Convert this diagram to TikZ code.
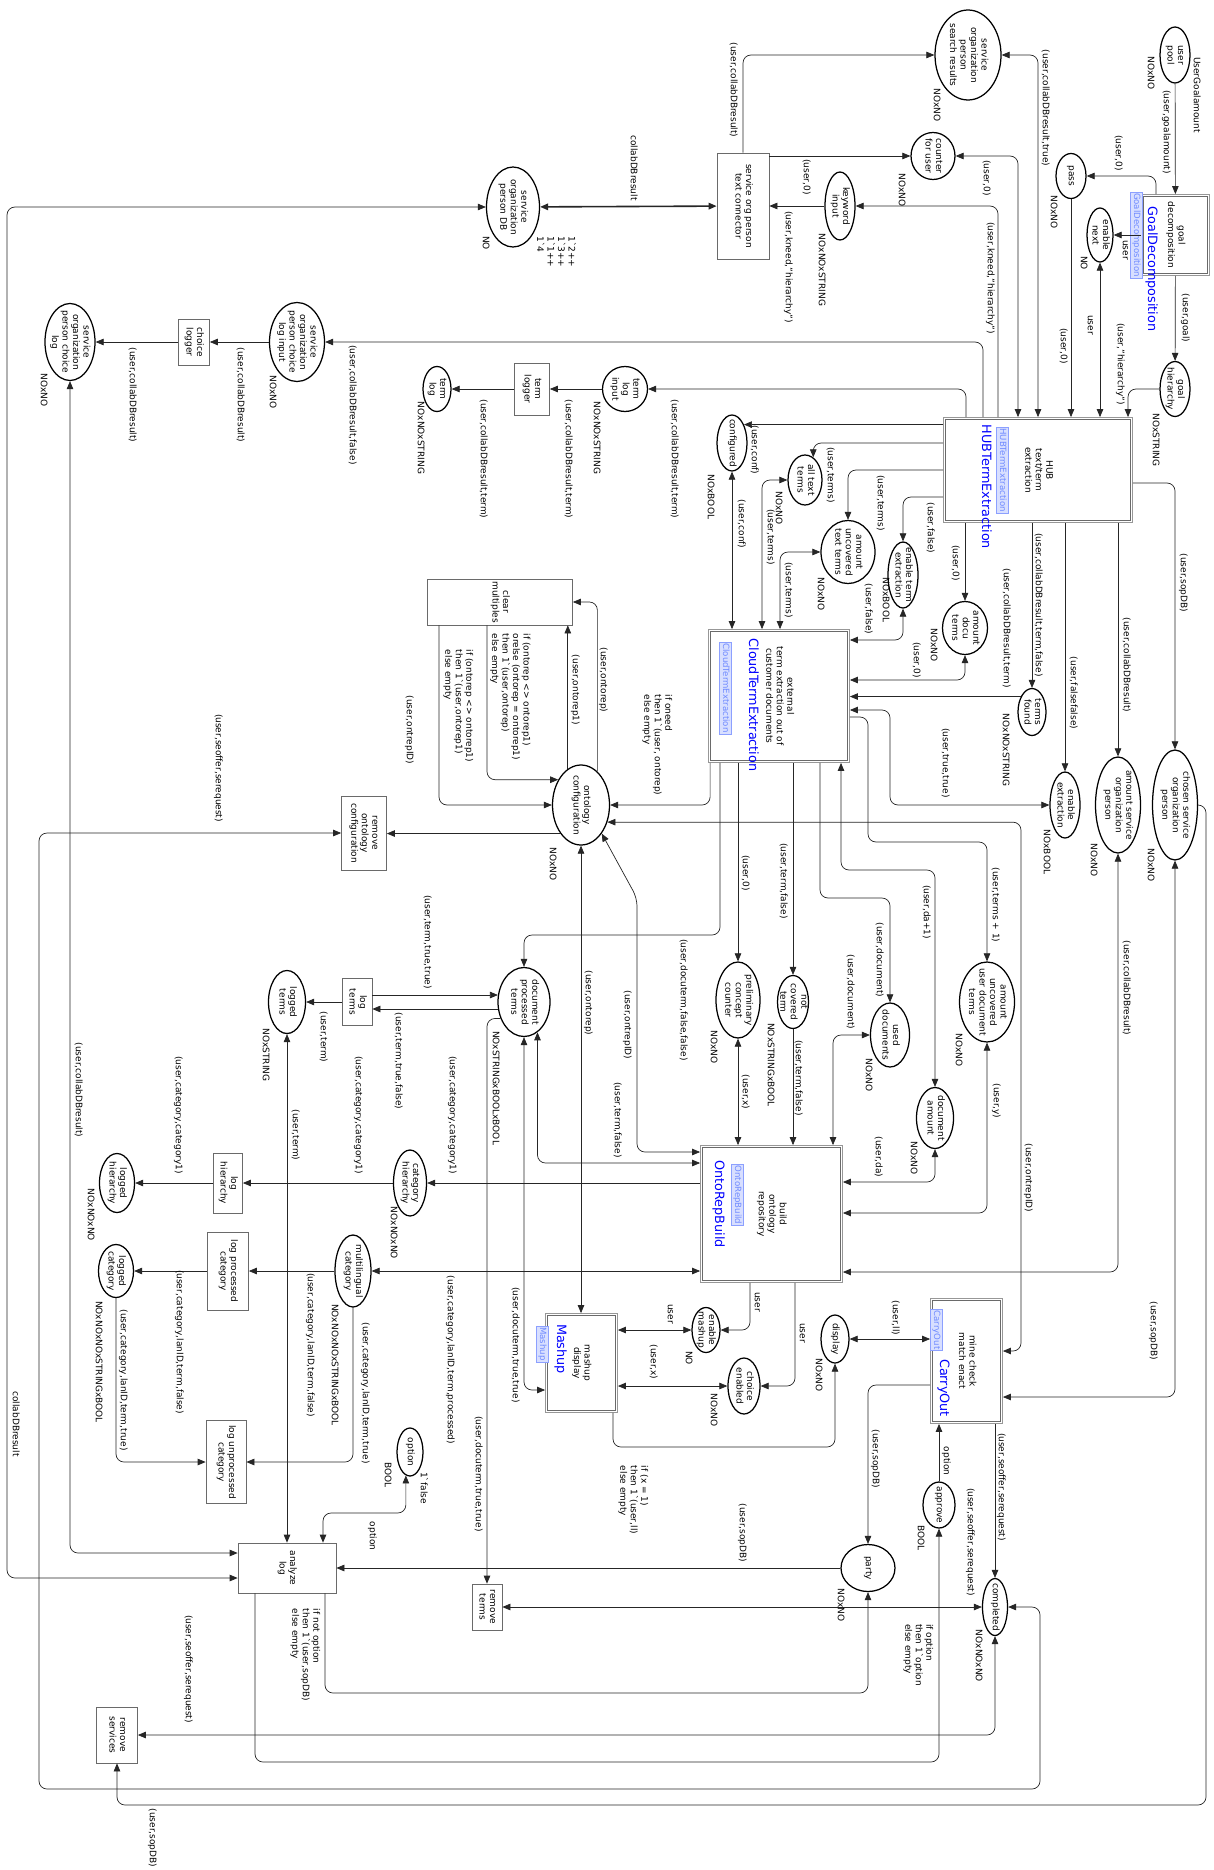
\documentclass[tikz,border=0pt]{standalone}
\usepackage{fontspec}
\setmainfont{DejaVu Sans}
\usepackage{graphicx}
\usetikzlibrary{arrows.meta,shapes.geometric}
\definecolor{cpnBlue}{HTML}{0000FF}
\definecolor{tagText}{HTML}{6F8AFF}
\definecolor{tagFill}{HTML}{D8DFFF}
\definecolor{tagLine}{HTML}{8CA0FF}
\definecolor{boxLine}{HTML}{6A6A6A}
\newcommand{\cpnfont}{\fontsize{9}{10.5}\selectfont}
\newcommand{\rtxt}[1]{\rotatebox{-90}{\begin{tabular}{@{}c@{}}#1\end{tabular}}}
\newcommand{\rtxl}[1]{\rotatebox{-90}{\begin{tabular}{@{}l@{}}#1\end{tabular}}}
\newsavebox\cpnbox
\newcommand{\rtxz}[1]{\sbox\cpnbox{\rtxt{#1}}\makebox[0pt]{\raisebox{\dimexpr(\dp\cpnbox-\ht\cpnbox)/2\relax}[0pt][0pt]{\usebox\cpnbox}}}
\newcommand{\bq}{\textasciigrave}
\begin{document}
\begin{tikzpicture}[x=1pt, y=-1pt, >={Triangle[length=8pt,width=6.5pt]},
          place/.style 2 args={draw, ellipse, line width=1.25pt, inner sep=0pt, minimum width=#1pt, minimum height=#2pt, font=\cpnfont},
          trans/.style 2 args={draw=boxLine, line width=0.7pt, inner sep=0pt, minimum width=#1pt, minimum height=#2pt, font=\cpnfont},
          subtr/.style 2 args={draw=boxLine!70, line width=0.8pt, inner sep=0pt, minimum width=#1pt, minimum height=#2pt, font=\cpnfont},
          lbl/.style={inner sep=0pt, font=\cpnfont},
          subname/.style={inner sep=0pt, text=cpnBlue, font=\fontsize{12.8}{14}\selectfont},
          subtag/.style={draw=tagLine, fill=tagFill, text=tagText, inner sep=1.2pt, font=\fontsize{8.6}{10}\selectfont},
          arc/.style={draw=black!85, line width=0.7pt, rounded corners=8pt}]
  \fill[white] (0,0) rectangle (1213,1870);
  \useasboundingbox (0,0) rectangle (1213,1870);

  \node[place={30}{56}] (upool) at (1175,55) {\rtxz{user\\pool}};
  \node[place={66}{90}] (soprs) at (968,55) {\rtxz{service\\organization\\person\\search results}};
  \node[place={44}{47}] (cfu) at (933,156) {\rtxz{counter\\for user}};
  \node[place={30}{68}] (kwi) at (840,206) {\rtxz{keyword\\input}};
  \node[place={30}{45}] (pass) at (1071,176) {\rtxz{pass}};
  \node[place={26}{54}] (enext) at (1100,235) {\rtxz{enable\\next}};
  \node[place={30}{55}] (ghier) at (1175,389) {\rtxz{goal\\hierarchy}};
  \node[place={53}{80}] (sopdb) at (513,207) {\rtxz{service\\organization\\person DB}};
  \node[place={50}{77}] (sopcl) at (70,342) {\rtxz{service\\organization\\person choice\\log}};
  \node[place={55}{79}] (sopcli) at (297,342) {\rtxz{service\\organization\\person choice\\log input}};
  \node[place={45}{45}] (tli) at (625,389) {\rtxz{term\\log\\input}};
  \node[place={28}{45}] (tlog) at (437,389) {\rtxz{term\\log}};
  \node[place={30}{56}] (conf) at (732,443) {\rtxz{configured}};
  \node[place={34}{50}] (att) at (805,480) {\rtxz{all text\\terms}};
  \node[place={54}{63}] (autt) at (848,552) {\rtxz{amount\\uncovered\\text terms}};
  \node[place={30}{66}] (ete) at (903,575) {\rtxz{enable term\\extraction}};
  \node[place={45}{53}] (adt) at (965,628) {\rtxz{amount\\docu\\terms}};
  \node[place={28}{47}] (tfound) at (1032,712) {\rtxz{terms\\found}};
  \node[place={30}{66}] (eext) at (1065,805) {\rtxz{enable\\extraction}};
  \node[place={45}{96}] (asop) at (1118,805) {\rtxz{amount service\\organization\\person}};
  \node[place={45}{110}] (csop) at (1175,805) {\rtxz{chosen service\\organization\\person}};
  \node[place={57}{80}] (oconf) at (581,805) {\rtxz{ontology\\configuration}};
  \node[place={52}{69}] (dpt) at (524,1002) {\rtxz{document\\processed\\terms}};
  \node[place={44}{76}] (pcc) at (738,1000) {\rtxz{preliminary\\concept\\counter}};
  \node[place={31}{53}] (nct) at (793,1002) {\rtxz{not\\covered\\term}};
  \node[place={39}{64}] (udoc) at (890,1035) {\rtxz{used\\documents}};
  \node[place={55}{80}] (auudt) at (987,1002) {\rtxz{amount\\uncovered\\user document\\terms}};
  \node[place={37}{61}] (damt) at (935,1118) {\rtxz{document\\amount}};
  \node[place={37}{63}] (lterms) at (287,1002) {\rtxz{logged\\terms}};
  \node[place={33}{66}] (chier) at (410,1183) {\rtxz{category\\hierarchy}};
  \node[place={35}{59}] (lhier) at (117,1183) {\rtxz{logged\\hierarchy}};
  \node[place={36}{72}] (mcat) at (353,1271) {\rtxz{multilingual\\category}};
  \node[place={35}{53}] (lcat) at (116,1271) {\rtxz{logged\\category}};
  \node[place={28}{45}] (emash) at (706,1330) {\rtxz{enable\\mashup}};
  \node[place={32}{56}] (cen) at (744,1386) {\rtxz{choice\\enabled}};
  \node[place={28}{48}] (disp) at (835,1339) {\rtxz{display}};
  \node[place={26}{48}] (option) at (410,1452) {\rtxz{option}};
  \node[place={54}{47}] (party) at (868,1568) {\rtxz{party}};
  \node[place={32}{46}] (appr) at (939,1505) {\rtxz{approve}};
  \node[place={25}{57}] (compl) at (995,1607) {\rtxz{completed}};

  \node[trans={52}{106}] (sotc) at (743,206) {\rtxz{service org person\\text connector}};
  \node[trans={31}{46}] (chlog) at (194,342) {\rtxz{choice\\logger}};
  \node[trans={35}{52}] (tlogger) at (532,389) {\rtxz{term\\logger}};
  \node[trans={145}{46}] (clrm) at (500,602) {\rtxz{clear\\multiples}};
  \node[trans={45}{74}] (rmoc) at (364,833) {\rtxz{remove\\ontology\\configuration}};
  \node[trans={30}{47}] (logt) at (357,1002) {\rtxz{log\\terms}};
  \node[trans={29}{60}] (loghier) at (228,1183) {\rtxz{log\\hierarchy}};
  \node[trans={41}{78}] (logpc) at (228,1271) {\rtxz{log processed\\category}};
  \node[trans={40}{83}] (logupc) at (226,1462) {\rtxz{log unprocessed\\category}};
  \node[trans={98}{50}] (anlog) at (287,1568) {\rtxz{analyze\\log}};
  \node[trans={30}{46}] (rmterms) at (487,1607) {\rtxz{remove\\terms}};
  \node[trans={41}{56}] (rmserv) at (117,1735) {\rtxz{remove\\services}};

  \node[subtr={68}{81}] (gdec) at (1175.5,235) {\rtxz{goal\\decomposition}};
  \node[subtr={189}{105}] (hub) at (1038,470) {\rtxz{HUB\\text/term\\extraction}};
  \node[subtr={141}{133}] (cloud) at (779,696) {\rtxz{external\\term extraction out of\\customer documents}};
  \node[subtr={142}{137}] (orb) at (771.5,1214) {\rtxz{build\\ontology\\repository}};
  \node[subtr={72}{99}] (mashup) at (581.5,1363) {\rtxz{mashup\\display}};
  \node[subtr={72}{125}] (carry) at (966.5,1361) {\rtxz{mine check\\match enact}};
  \foreach \s in {gdec,hub,cloud,orb,mashup,carry}
    \draw[boxLine, line width=0.8pt] ([xshift=2.6pt,yshift=-2.6pt]\s.north west) rectangle ([xshift=-2.6pt,yshift=2.6pt]\s.south east);

  \node[subname] (gdecName) at (1151,269) {\rtxt{GoalDecomposition}};
  \node[subtag] (gdecTag) at (1136,235) {\rtxt{GoalDecomposition}};
  \node[subname] (hubName) at (985,487) {\rtxt{HUBTermExtraction}};
  \node[subtag] (hubTag) at (1002,470) {\rtxt{HUBTermExtraction}};
  \node[subname] (cloudName) at (752,705) {\rtxt{CloudTermExtraction}};
  \node[subtag] (cloudTag) at (725,688) {\rtxt{CloudTermExtraction}};
  \node[subname] (orbName) at (718,1204) {\rtxt{OntoRepBuild}};
  \node[subtag] (orbTag) at (737,1195) {\rtxt{OntoRepBuild}};
  \node[subname] (mashupName) at (560,1349) {\rtxt{Mashup}};
  \node[subtag] (mashupTag) at (542,1344) {\rtxt{Mashup}};
  \node[subname] (carryName) at (943,1388) {\rtxt{CarryOut}};
  \node[subtag] (carryTag) at (936,1330) {\rtxt{CarryOut}};

  \draw[arc,->] (upool) -- (gdec);
  \draw[arc,->] (gdec) -- (ghier);
  \draw[arc,->] (gdec.north -| 1156,0) |- (pass);
  \draw[arc,->] (gdec) -- (enext);
  \draw[arc,->] (pass) -- (pass |- hub.north);
  \draw[arc,<->] (enext) -- (enext |- hub.north);
  \draw[arc,->] (ghier) -| (hub.north -| 1128,0);
  \draw[arc,<->] (hub.north) |- (soprs);
  \draw[arc,<->] (hub.north -| 1018,0) |- (cfu);
  \draw[arc,->] (hub.north -| 998,0) |- (kwi);
  \draw[arc,->] (hub.north -| 983,0) |- (sopcli);
  \draw[arc,->] (hub.north -| 966,0) |- (tli);
  \draw[arc,->] (hub.west |- conf.57) -- (conf.57);
  \draw[arc,->] (hub.west |- 0,443) -| (att.70);
  \draw[arc,->] (hub.west |- 0,470) -| (autt);
  \draw[arc,->] (hub.west |- 0,497) -| (ete);
  \draw[arc,->] (hub.south -| adt) -- (adt);
  \draw[arc,->] (hub.south -| tfound) -- (tfound);
  \draw[arc,->] (hub.south -| eext) -- (eext);
  \draw[arc,->] (hub.south -| asop) -- (asop);
  \draw[arc,->] (hub.east |- 0,483) -| (csop);

  \draw[arc,->] (sotc) |- (soprs);
  \draw[arc,->] (sotc.east |- cfu) -- (cfu);
  \draw[arc,->] (kwi) -- (sotc);
  \draw[arc,<->, line width=1.6pt] (sopdb) -- (sotc);
  \draw[arc,<->] (sopdb) -| (7,1578) -- (anlog.west |- 0,1578);
  \draw[arc,->] (sopcli) -- (chlog);
  \draw[arc,->] (chlog) -- (sopcl);
  \draw[arc,<->] (sopcl) |- (anlog.west |- 0,1553);
  \draw[arc,->] (tli) -- (tlogger);
  \draw[arc,->] (tlogger) -- (tlog);

  \draw[arc,<->] (conf) -- (conf |- cloud.north);
  \draw[arc,<->] (cloud.north -| 762,0) |- (att);
  \draw[arc,<->] (cloud.north -| 780,0) |- (autt);
  \draw[arc,<->] (ete) |- (cloud.east |- 0,640);
  \draw[arc,<->] (adt) |- (cloud.east |- 0,680);
  \draw[arc,->] (tfound.126) -- (tfound.126 -| cloud.east);
  \draw[arc,<->] (cloud.east |- 0,710) -- (890,710) |- (eext);
  \draw[arc,<->] (asop) |- (orb.east |- 0,1272);
  \draw[arc,<->] (csop) |- (carry.east |- 0,1397);
  \draw[arc,->] (csop) -| (1206,1805) -| (rmserv);

  \draw[arc,->] ([xshift=2pt]cloud.south west) |- (oconf);
  \draw[arc,->] (oconf.64) |- (clrm);
  \draw[arc,->] (oconf.110) -- (oconf.110 |- clrm.south);
  \draw[arc,->] (clrm.south -| 487,0) |- (oconf.132);
  \draw[arc,->] (clrm.south -| 439,0) |- (oconf);
  \draw[arc,->] (oconf.234) -- (oconf.234 -| rmoc.east);
  \draw[arc,<->] (compl) -| (1040,1789) -| (39,833) -- (rmoc);
  \draw[arc,<->] (oconf.-33) -| (1021,1351) -- (carry.east |- 0,1351);
  \draw[arc,<->] (oconf.-54) -- (637,898) |- (orb.west |- 0,1152);
  \draw[arc,<->] (oconf) -- (oconf |- mashup.north);
  \draw[arc,->] (cloud.south -| 720,0) -- (720,935) -| (dpt);
  \draw[arc,->] (cloud.south -| pcc) -- (pcc);
  \draw[arc,->] (cloud.south -| nct) -- (nct);
  \draw[arc,->] (cloud.south -| 820,0) -- (820,898) -| (udoc);
  \draw[arc,<->] (damt) |- (841,870) -- (cloud.south -| 841,0);
  \draw[arc,->] (cloud.east |- 0,717) -| (868,842) -| (auudt);
  \draw[arc,<->] (udoc) -| (orb.north -| 833,0);
  \draw[arc,<->] (pcc) -- (pcc |- orb.north);
  \draw[arc,->] (nct) -- (nct |- orb.north);
  \draw[arc,<->] (damt) |- (orb.east |- 0,1182);
  \draw[arc,<->] (auudt) |- (orb.east |- 0,1213);

  \draw[arc,<->] (dpt.-66) |- (orb.west |- 0,1163);
  \draw[arc,<->] (dpt) |- (mashup.west |- 0,1390);
  \draw[arc,->] (dpt.215) -| (rmterms);
  \draw[arc,->] (dpt.165 -| logt.east) -- (dpt.165);
  \draw[arc,->] (dpt.195) -- (dpt.195 -| logt.east);
  \draw[arc,->] (logt) -- (lterms);
  \draw[arc,<->] (lterms) -- (lterms |- anlog.north);
  \draw[arc,->] (orb.west |- chier) -- (chier);
  \draw[arc,->] (chier) -- (loghier);
  \draw[arc,->] (loghier) -- (lhier);
  \draw[arc,<->] (orb.west |- mcat) -- (mcat);
  \draw[arc,->] (mcat) -- (logpc);
  \draw[arc,->] (logpc) -- (lcat);
  \draw[arc,->] (lcat) |- (logupc);
  \draw[arc,->] (mcat) |- (logupc);

  \draw[arc,<->] (option.-100) |- (323,1513) -- (anlog.north -| 323,0);
  \draw[arc,->] (party) -- (anlog);
  \draw[arc,->] (anlog.south -| 325,0) -- (325,1693) -| (party);
  \draw[arc,->] (anlog.south -| 255,0) -- (255,1762) -| (appr);
  \draw[arc,->] (appr) -- (appr |- carry.south);
  \draw[arc,->] (carry.south -| compl) -- (compl);
  \draw[arc,<->] (compl) |- (rmserv);
  \draw[arc,<->] (rmterms) -- (compl);
  \draw[arc,->] (carry.west |- 0,1385) -| (party);
  \draw[arc,<->] (disp) -- (disp -| carry.west);
  \draw[arc,->] (mashup.south -| 613,0) |- (disp.south |- 0,1447) -- (disp);
  \draw[arc,->] (orb.south -| 750,0) |- (emash);
  \draw[arc,<->] (emash) -- (emash -| mashup.east);
  \draw[arc,->] (orb.south -| 795,0) |- (cen);
  \draw[arc,<->] (cen) -- (cen -| mashup.east);

  \node[lbl] (m1) at (1196,95) {\rtxt{UserGoalamount}};
  \node[lbl] (m2) at (555,252) {\rtxl{1\bq 2++\\1\bq 3++\\1\bq 1++\\1\bq 4}};
  \node[lbl] (m3) at (423,1488) {\rtxt{1\bq false}};
  \node[lbl] (t1) at (1150,73) {\rtxt{NOxNO}};
  \node[lbl] (t2) at (1053,212) {\rtxt{NOxNO}};
  \node[lbl] (t3) at (1083,263) {\rtxt{NO}};
  \node[lbl] (t4) at (1155,440) {\rtxt{NOxSTRING}};
  \node[lbl] (t5) at (936,105) {\rtxt{NOxNO}};
  \node[lbl] (t6) at (901,190) {\rtxt{NOxNO}};
  \node[lbl] (t7) at (821,270) {\rtxt{NOxNOxSTRING}};
  \node[lbl] (t8) at (485,243) {\rtxt{NO}};
  \node[lbl] (t9) at (272,392) {\rtxt{NOxNO}};
  \node[lbl] (t10) at (43,390) {\rtxt{NOxNO}};
  \node[lbl] (t11) at (596,438) {\rtxt{NOxNOxSTRING}};
  \node[lbl] (t12) at (420,438) {\rtxt{NOxNOxSTRING}};
  \node[lbl] (t13) at (710,497) {\rtxt{NOxBOOL}};
  \node[lbl] (t14) at (778,508) {\rtxt{NOxNO}};
  \node[lbl] (t15) at (820,594) {\rtxt{NOxNO}};
  \node[lbl] (t16) at (885,600) {\rtxt{NOxBOOL}};
  \node[lbl] (t17) at (933,645) {\rtxt{NOxNO}};
  \node[lbl] (t18) at (1005,750) {\rtxt{NOxNOxSTRING}};
  \node[lbl] (t19) at (1046,852) {\rtxt{NOxBOOL}};
  \node[lbl] (t20) at (1093,860) {\rtxt{NOxNO}};
  \node[lbl] (t21) at (1150,865) {\rtxt{NOxNO}};
  \node[lbl] (t22) at (552,864) {\rtxt{NOxNO}};
  \node[lbl] (t23) at (495,1088) {\rtxt{NOxSTRINGxBOOLxBOOL}};
  \node[lbl] (t24) at (265,1055) {\rtxt{NOxSTRING}};
  \node[lbl] (t25) at (713,1047) {\rtxt{NOxNO}};
  \node[lbl] (t26) at (770,1065) {\rtxt{NOxSTRINGxBOOL}};
  \node[lbl] (t27) at (868,1075) {\rtxt{NOxNO}};
  \node[lbl] (t28) at (913,1158) {\rtxt{NOxNO}};
  \node[lbl] (t29) at (958,1050) {\rtxt{NOxNO}};
  \node[lbl] (t30) at (393,1233) {\rtxt{NOxNOxNO}};
  \node[lbl] (t31) at (90,1215) {\rtxt{NOxNOxNO}};
  \node[lbl] (t32) at (334,1365) {\rtxt{NOxNOxNOxSTRINGxBOOL}};
  \node[lbl] (t33) at (98,1362) {\rtxt{NOxNOxNOxSTRINGxBOOL}};
  \node[lbl] (t34) at (688,1358) {\rtxt{NO}};
  \node[lbl] (t35) at (713,1410) {\rtxt{NOxNO}};
  \node[lbl] (t36) at (818,1375) {\rtxt{NOxNO}};
  \node[lbl] (t37) at (387,1475) {\rtxt{BOOL}};
  \node[lbl] (t38) at (840,1605) {\rtxt{NOxNO}};
  \node[lbl] (t39) at (920,1538) {\rtxt{BOOL}};
  \node[lbl] (t40) at (978,1656) {\rtxt{NOxNOxNO}};

  \node[lbl] (i1) at (1166,132) {\rtxt{(user,goalamount)}};
  \node[lbl] (i2) at (1118,153) {\rtxt{(user,0)}};
  \node[lbl] (i3) at (1125,250) {\rtxt{user}};
  \node[lbl] (i4) at (1185,318) {\rtxt{(user,goal)}};
  \node[lbl] (i5) at (1120,364) {\rtxt{(user,"hierarchy")}};
  \node[lbl] (i6) at (1090,325) {\rtxt{user}};
  \node[lbl] (i7) at (1063,346) {\rtxt{(user,0)}};
  \node[lbl] (i8) at (1045,108) {\rtxt{(user,collabDBresult,true)}};
  \node[lbl] (i9) at (986,178) {\rtxt{(user,0)}};
  \node[lbl] (i10) at (990,278) {\rtxt{(user,kneed,"hierarchy")}};
  \node[lbl] (i11) at (788,267) {\rtxt{(user,kneed,"hierarchy")}};
  \node[lbl] (i12) at (806,177) {\rtxt{(user,0)}};
  \node[lbl] (i13) at (733,90) {\rtxt{(user,collabDBresult)}};
  \node[lbl] (i14) at (633,168) {\rtxt{collabDBresult}};
  \node[lbl] (i15) at (352,405) {\rtxt{(user,collabDBresult,false)}};
  \node[lbl] (i16) at (240,395) {\rtxt{(user,collabDBresult)}};
  \node[lbl] (i17) at (132,395) {\rtxt{(user,collabDBresult)}};
  \node[lbl] (i18) at (674,459) {\rtxt{(user,collabDBresult,term)}};
  \node[lbl] (i19) at (568,459) {\rtxt{(user,collabDBresult,term)}};
  \node[lbl] (i20) at (483,459) {\rtxt{(user,collabDBresult,term)}};
  \node[lbl] (i21) at (754,450) {\rtxt{(user,conf)}};
  \node[lbl] (i22) at (741,524) {\rtxt{(user,conf)}};
  \node[lbl] (i23) at (770,537) {\rtxt{(user,terms)}};
  \node[lbl] (i24) at (830,475) {\rtxt{(user,terms)}};
  \node[lbl] (i25) at (788,590) {\rtxt{(user,terms)}};
  \node[lbl] (i26) at (880,503) {\rtxt{(user,terms)}};
  \node[lbl] (i27) at (930,528) {\rtxt{(user,false)}};
  \node[lbl] (i28) at (868,609) {\rtxt{(user,false)}};
  \node[lbl] (i29) at (955,563) {\rtxt{(user,0)}};
  \node[lbl] (i30) at (916,660) {\rtxt{(user,0)}};
  \node[lbl] (i31) at (1038,605) {\rtxt{(user,collabDBresult,term,false)}};
  \node[lbl] (i32) at (1006,628) {\rtxt{(user,collabDBresult,term)}};
  \node[lbl] (i33) at (1073,693) {\rtxt{(user,falsefalse)}};
  \node[lbl] (i34) at (945,763) {\rtxt{(user,true,true)}};
  \node[lbl] (i35) at (1126,665) {\rtxt{(user,collabDBresult)}};
  \node[lbl] (i36) at (1183,583) {\rtxt{(user,sopDB)}};
  \node[lbl] (i37) at (657,745) {\rtxl{if oneed\\then 1\bq(user, ontorep)\\else empty}};
  \node[lbl] (i38) at (603,680) {\rtxt{(user,ontorep)}};
  \node[lbl] (i39) at (575,690) {\rtxt{(user,ontorep1)}};
  \node[lbl] (i40) at (510,697) {\rtxl{if (ontorep <> ontorep1)\\orelse (ontorep = ontorep1)\\then 1\bq(user,ontorep)\\else empty}};
  \node[lbl] (i41) at (458,706) {\rtxl{if (ontorep <> ontorep1)\\then 1\bq(user,ontorep1)\\else empty}};
  \node[lbl] (i42) at (409,730) {\rtxt{(user,ontrepID)}};
  \node[lbl] (i43) at (218,768) {\rtxt{(user,seoffer,serequest)}};
  \node[lbl] (i44) at (745,873) {\rtxt{(user,0)}};
  \node[lbl] (i45) at (783,881) {\rtxt{(user,term,false)}};
  \node[lbl] (i46) at (683,1000) {\rtxt{(user,docuterm,false,false)}};
  \node[lbl] (i47) at (588,1003) {\rtxt{(user,ontorep)}};
  \node[lbl] (i48) at (627,1025) {\rtxt{(user,ontrepID)}};
  \node[lbl] (i49) at (617,1120) {\rtxt{(user,term,false)}};
  \node[lbl] (i50) at (427,942) {\rtxt{(user,term,true,true)}};
  \node[lbl] (i51) at (398,1061) {\rtxt{(user,term,true,false)}};
  \node[lbl] (i52) at (323,1037) {\rtxt{(user,term)}};
  \node[lbl] (i53) at (295,1135) {\rtxt{(user,term)}};
  \node[lbl] (i54) at (745,1092) {\rtxt{(user,x)}};
  \node[lbl] (i55) at (798,1078) {\rtxt{(user,term,false)}};
  \node[lbl] (i56) at (879,960) {\rtxt{(user,document)}};
  \node[lbl] (i57) at (850,992) {\rtxt{(user,document)}};
  \node[lbl] (i58) at (926,912) {\rtxt{(user,da+1)}};
  \node[lbl] (i59) at (878,1157) {\rtxt{(user,da)}};
  \node[lbl] (i60) at (995,905) {\rtxt{(user,terms + 1)}};
  \node[lbl] (i61) at (996,1101) {\rtxt{(user,y)}};
  \node[lbl] (i62) at (1028,1178) {\rtxt{(user,ontrepID)}};
  \node[lbl] (i63) at (1126,988) {\rtxt{(user,collabDBresult)}};
  \node[lbl] (i64) at (1153,1331) {\rtxt{(user,sopDB)}};
  \node[lbl] (i65) at (452,1115) {\rtxt{(user,category,category1)}};
  \node[lbl] (i66) at (358,1115) {\rtxt{(user,category,category1)}};
  \node[lbl] (i67) at (178,1115) {\rtxt{(user,category,category1)}};
  \node[lbl] (i68) at (450,1360) {\rtxt{(user,category,lanID,term,processed)}};
  \node[lbl] (i69) at (310,1345) {\rtxt{(user,category,lanID,term,false)}};
  \node[lbl] (i70) at (179,1342) {\rtxt{(user,category,lanID,term,false)}};
  \node[lbl] (i71) at (123,1380) {\rtxt{(user,category,lanID,term,true)}};
  \node[lbl] (i72) at (365,1393) {\rtxt{(user,category,lanID,term,true)}};
  \node[lbl] (i73) at (78,1090) {\rtxt{(user,collabDBresult)}};
  \node[lbl] (i74) at (15,1424) {\rtxt{collabDBresult}};
  \node[lbl] (i75) at (757,1302) {\rtxt{user}};
  \node[lbl] (i76) at (670,1314) {\rtxt{user}};
  \node[lbl] (i77) at (802,1333) {\rtxt{user}};
  \node[lbl] (i78) at (653,1362) {\rtxt{(user,x)}};
  \node[lbl] (i79) at (515,1345) {\rtxt{(user,docuterm,true,true)}};
  \node[lbl] (i80) at (478,1474) {\rtxt{(user,docuterm,true,true)}};
  \node[lbl] (i81) at (633,1500) {\rtxl{if (x = 1)\\then 1\bq(user,ll)\\else empty}};
  \node[lbl] (i82) at (895,1318) {\rtxt{(user,ll)}};
  \node[lbl] (i83) at (372,1536) {\rtxt{option}};
  \node[lbl] (i84) at (742,1533) {\rtxt{(user,sopDB)}};
  \node[lbl] (i85) at (305,1655) {\rtxl{if not option\\then 1\bq(user,sopDB)\\else empty}};
  \node[lbl] (i86) at (188,1669) {\rtxt{(user,seoffer,serequest)}};
  \node[lbl] (i87) at (152,1838) {\rtxt{(user,sopDB)}};
  \node[lbl] (i88) at (875,1459) {\rtxt{(user,sopDB)}};
  \node[lbl] (i89) at (946,1461) {\rtxt{option}};
  \node[lbl] (i90) at (918,1655) {\rtxl{if option\\then 1\bq option\\else empty}};
  \node[lbl] (i91) at (1001,1487) {\rtxt{(user,seoffer,serequest)}};
  \node[lbl] (i92) at (970,1542) {\rtxt{(user,seoffer,serequest)}};
\end{tikzpicture}
\end{document}
